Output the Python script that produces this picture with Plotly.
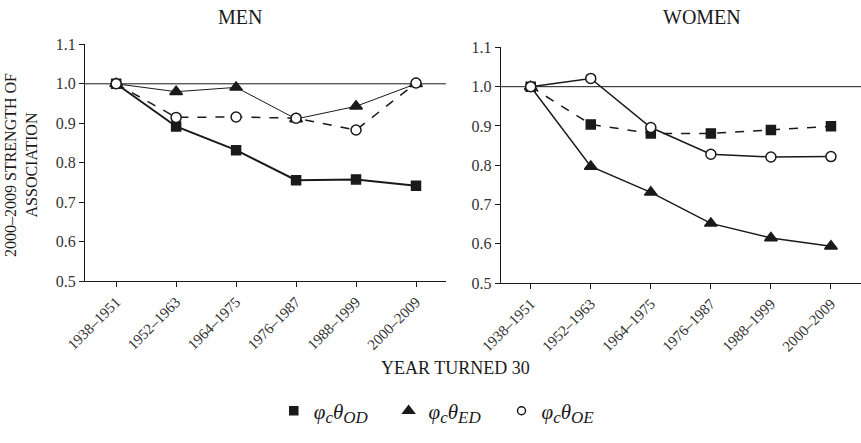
import plotly.graph_objects as go

categories = ["1938–1951", "1952–1963", "1964–1975", "1976–1987", "1988–1999", "2000–2009"]

men_od = [1.000, 0.892, 0.832, 0.756, 0.758, 0.742]
men_ed = [1.000, 0.980, 0.991, 0.911, 0.943, 1.000]
men_oe = [1.000, 0.915, 0.916, 0.913, 0.883, 1.002]

women_od = [1.000, 0.904, 0.881, 0.881, 0.890, 0.899]
women_ed = [1.000, 0.797, 0.731, 0.652, 0.615, 0.594]
women_oe = [1.000, 1.021, 0.896, 0.828, 0.821, 0.822]

y_ticks = [0.5, 0.6, 0.7, 0.8, 0.9, 1.0, 1.1]
SUB = "<sub><span style='font-size:17px'>{}</span></sub>"
legend_names = ["<i>φ" + SUB.format("c") + "θ" + SUB.format(s) + "</i>\u00a0\u00a0\u00a0" for s in ["OD", "ED", "OE"]]

FONT = "Liberation Serif"
INK = "#1a1a1a"
TICK_INK = "#333333"

fig = go.Figure()

def add_series(y, xa, ya, symbol, dash, width, fill, msize):
    fig.add_trace(go.Scatter(
        x=categories, y=y, xaxis=xa, yaxis=ya, mode="lines+markers",
        line=dict(color=INK, width=width, dash=dash),
        marker=dict(symbol=symbol, size=msize, color=fill, line=dict(color=INK, width=1.5)),
        showlegend=False, cliponaxis=False,
    ))

# Men
add_series(men_ed, "x", "y", "triangle-up", "solid", 1, INK, 11)
add_series(men_od, "x", "y", "square", "solid", 2, INK, 9)
add_series(men_oe, "x", "y", "circle", "dash", 1.5, "white", 10)
# Women
add_series(women_od, "x2", "y2", "square", "dash", 1.5, INK, 9)
add_series(women_ed, "x2", "y2", "triangle-up", "solid", 1.5, INK, 11)
add_series(women_oe, "x2", "y2", "circle", "solid", 1.5, "white", 10)

# legend-only entries
for name, sym, fill, sz in zip(legend_names, ["square", "triangle-up", "circle"], [INK, INK, "white"], [8, 10, 8]):
    fig.add_trace(go.Scatter(
        x=[None], y=[None], mode="markers", name=name,
        marker=dict(symbol=sym, size=sz, color=fill, line=dict(color=INK, width=1.5)),
    ))

def xaxis_style(**kw):
    d = dict(showline=True, linecolor=INK, linewidth=1, ticks="outside", ticklen=5,
             tickcolor=INK, showgrid=False, zeroline=False, automargin=False,
             tickangle=-45, tickfont=dict(family=FONT, size=15, color=TICK_INK))
    d.update(kw)
    return d

def yaxis_style(**kw):
    d = dict(showline=True, linecolor=INK, linewidth=1, ticks="outside", ticklen=5,
             tickcolor=INK, showgrid=False, zeroline=False, automargin=False,
             range=[0.5, 1.1], tickvals=y_ticks, tickformat=".1f",
             tickfont=dict(family=FONT, size=16, color=TICK_INK))
    d.update(kw)
    return d

fig.update_layout(
    width=861, height=443,
    margin=dict(l=0, r=0, t=0, b=0, autoexpand=False),
    paper_bgcolor="white", plot_bgcolor="white",
    font=dict(family=FONT, color=INK),
    xaxis=xaxis_style(domain=[0.0987, 0.518], range=[-0.52, 5.5]),
    yaxis=yaxis_style(domain=[0.365, 0.900]),
    xaxis2=xaxis_style(domain=[0.5815, 1.0], range=[-0.5, 5.5], anchor="y2"),
    yaxis2=yaxis_style(domain=[0.361, 0.893], anchor="x2"),
    legend=dict(orientation="h", x=0.516, xanchor="center", y=0.072, yanchor="middle",
                font=dict(family=FONT, size=21, color=INK), itemwidth=30,
                tracegroupgap=0),
    shapes=[
        dict(type="line", xref="x domain", yref="y", x0=0, x1=1, y0=1.0, y1=1.0,
             line=dict(color=INK, width=1), layer="below"),
        dict(type="line", xref="x2 domain", yref="y2", x0=0, x1=1, y0=1.0, y1=1.0,
             line=dict(color=INK, width=1), layer="below"),
    ],
    annotations=[
        dict(text="MEN", x=240 / 861, y=1 - 17 / 443, xref="paper", yref="paper",
             xanchor="center", yanchor="middle", showarrow=False,
             font=dict(family=FONT, size=20, color=INK)),
        dict(text="WOMEN", x=702 / 861, y=1 - 17 / 443, xref="paper", yref="paper",
             xanchor="center", yanchor="middle", showarrow=False,
             font=dict(family=FONT, size=20, color=INK)),
        dict(text="2000–2009 STRENGTH OF<br>ASSOCIATION", x=21 / 861, y=1 - 165 / 443,
             xref="paper", yref="paper", showarrow=False, textangle=-90,
             xanchor="center", yanchor="middle",
             font=dict(family=FONT, size=16, color=INK)),
        dict(text="YEAR TURNED 30", x=455 / 861, y=1 - 368 / 443, xref="paper", yref="paper",
             xanchor="center", yanchor="middle", showarrow=False,
             font=dict(family=FONT, size=18, color=INK)),
    ],
)

fig.write_html(
    "out.html",
    config={"displayModeBar": False},
    post_script="document.body.style.margin='0';document.documentElement.style.overflow='hidden';",
)
